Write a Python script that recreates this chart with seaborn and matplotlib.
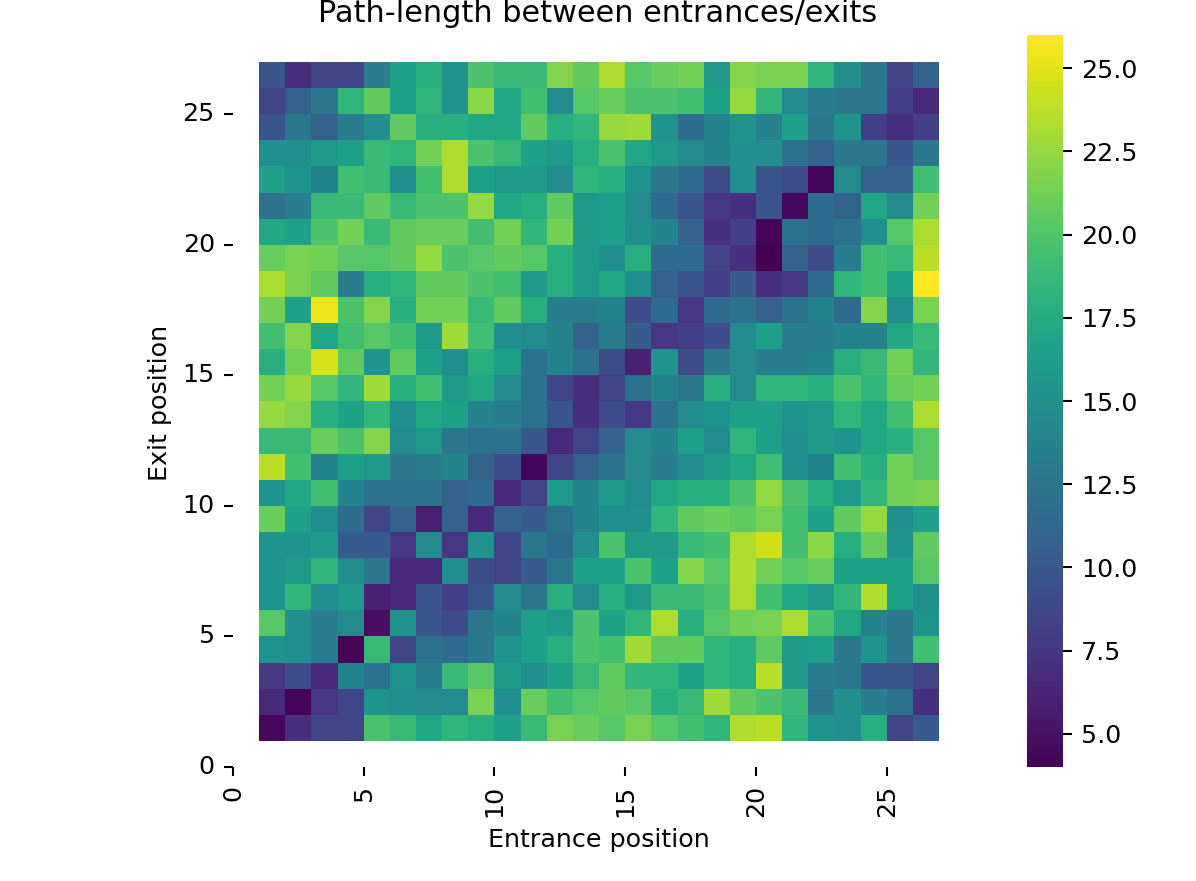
import numpy as np
import matplotlib
matplotlib.use("Agg")
import matplotlib.pyplot as plt
import seaborn as sns

title = "Path-length between entrances/exits"
x_label = "Entrance position"
y_label = "Exit position"
tick_values = [0, 5, 10, 15, 20, 25]

# Rows run from exit position 26 (top) to 1 (bottom); columns are entrance positions 1..26
exit_26 = [9.7,7,8.5,8.5,13.2,16.4,17.9,15.4,19.8,18.8,18.8,21.9,20.6,23.3,20.2,21,21.3,15.9,21.9,21.6,21.6,18.4,14.9,12.7,8.5,10.9]
exit_25 = [8.5,10.9,12.7,18.4,20.6,16.4,18.4,15.4,22.2,17.1,19.3,14.4,20.2,21,19.8,19.8,19.3,16.4,22.5,18.4,14.4,13.2,12.7,12.7,8,6.5]
exit_24 = [9.7,12.7,10.9,13.2,14.9,20.6,17.9,17.9,17.1,17.1,20.6,17.9,18.4,22.5,22.9,15.4,11.6,13.8,15.4,13.8,16.4,12.7,15.4,8,7,8]
exit_23 = [14.9,14.9,15.9,16.4,18.8,18.4,21.3,23.3,19.8,18.8,16.4,15.9,17.9,19.8,17.1,15.9,14.4,13.8,14.9,14.9,12.2,10.9,12.7,12.7,9.7,12.7]
exit_22 = [16.4,15.4,13.8,19.3,18.8,14.9,19.3,23.3,16.4,15.9,15.9,14.4,18.4,17.9,15.4,12.7,11.6,9,14.9,9.7,9,4.3,14.4,10.9,10.9,19.3]
exit_21 = [12.2,13.2,18.8,18.8,20.6,18.8,19.8,19.8,22.5,17.1,17.9,20.6,15.9,16.4,14.4,11.6,9.7,7.5,7,9.7,4.5,11.6,10.9,17.1,14.4,21.3]
exit_20 = [17.1,16.4,19.8,21.3,18.8,20.6,21,21,19.3,21.3,18.4,21.3,15.9,16.4,14.9,13.8,10.9,7,8,4.2,12.2,11.6,12.2,14.9,20.2,23.3]
exit_19 = [21,21.6,21.3,20.2,20.2,20.6,22.5,19.8,20.2,20.6,20.2,17.9,15.9,14.9,17.9,11.6,11.6,8.5,7,4,10.9,9,13.2,19.3,18.8,23.7]
exit_18 = [23.3,21.6,20.6,13.2,17.9,18.4,20.6,20.6,19.8,19.3,15.9,17.9,15.9,17.1,14.9,10.9,9.7,8,10.3,7,7.5,11.6,18.4,19.3,16.4,26]
exit_17 = [21.3,16.4,25.4,19.8,21.9,17.9,21.3,21.3,18.8,20.6,17.9,13.2,13.2,13.8,9,11.6,7.5,11.6,12.2,10.9,12.2,13.8,11.6,21.9,14.9,21.6]
exit_16 = [19.3,21.9,17.1,19.3,20.2,19.3,15.9,22.9,19.3,14.9,14.4,13.8,10.9,13.2,10.3,7.5,8,9,14.4,16.4,13.2,13.2,13.8,13.8,17.1,18.8]
exit_15 = [17.9,21.3,24.6,20.6,15.4,20.6,16.4,14.9,17.9,16.4,12.2,13.8,12.2,9,6,15.4,9,12.7,14.4,13.2,13.2,13.8,17.9,18.8,21.3,18.4]
exit_14 = [21.3,22.5,20.2,18.4,22.9,17.9,19.3,15.9,17.1,14.4,12.2,8.5,7,8.5,12.2,13.8,12.7,17.9,14.4,18.4,18.4,17.9,19.8,18.4,21,21.3]
exit_13 = [22.5,21.9,17.9,16.4,18.4,14.9,17.1,16.4,13.8,13.2,12.2,9.7,7,9,7.5,12.2,14.4,15.4,16.4,16.4,15.4,15.9,18.4,17.1,19.3,23.3]
exit_12 = [18.8,18.8,21,19.8,21.9,14.4,15.9,12.7,12.2,12.2,9.7,6.5,8.5,10.9,14.4,13.8,16.4,14.4,18.4,16.4,14.9,15.9,15.4,17.1,17.9,20.2]
exit_11 = [23.7,19.3,13.8,16.4,15.9,12.7,13.2,13.8,10.9,9,4.3,8.5,10.9,12.2,14.4,13.2,14.4,15.9,17.1,19.3,14.9,13.8,19.3,17.9,21.3,20.2]
exit_10 = [15.4,17.1,19.3,13.8,12.2,12.2,12.2,10.9,11.6,6.5,8.5,15.9,13.8,15.9,14.4,17.1,17.9,17.9,19.8,22.5,19.8,17.9,15.9,18.4,21.3,21.6]
exit_09 = [21,16.4,14.9,11.6,8.5,10.9,6,10.9,6.5,10.9,10.3,12.2,13.8,14.9,14.9,18.4,20.6,21,20.6,21.6,19.3,16.4,20.6,22.5,14.9,16.4]
exit_08 = [15.4,15.4,15.9,10.3,10.3,7.5,14.4,7.5,15.4,8.5,12.7,11.6,14.9,19.8,15.9,15.9,18.8,19.3,23.3,24.4,19.3,22.2,17.9,21,15.4,20.6]
exit_07 = [15.4,15.9,18.4,14.9,12.7,6.5,6.5,14.9,9,8.5,10.3,12.7,16.4,16.4,19.8,16.4,21.9,20.2,23.3,21.3,20.2,21,16.4,16.4,16.4,20.2]
exit_06 = [15.4,18.4,14.9,15.9,6,6.5,9.7,8,9.7,14.4,12.7,17.9,14.4,17.9,15.9,18.8,18.8,19.8,23.3,19.3,17.1,15.9,18.4,23.3,16.4,14.9]
exit_05 = [20.2,14.9,13.2,14.4,4.8,15.4,9.7,9,12.7,13.8,16.4,15.9,19.8,16.4,18.4,23.3,17.9,20.2,21.3,21.6,23.3,19.8,17.1,13.8,12.7,15.4]
exit_04 = [15.4,14.9,13.2,4.2,18.8,8.5,12.2,11.6,12.7,15.4,16.4,17.9,19.8,19.3,22.9,20.6,20.6,18.4,17.9,20.6,15.9,16.4,12.7,15.4,12.7,19.3]
exit_03 = [7.5,9,6.5,13.8,12.2,15.4,13.2,18.8,20.2,15.9,14.9,16.4,18.8,20.6,18.4,18.4,16.4,18.4,17.9,23.7,15.9,13.2,12.7,9.7,9.7,8.5]
exit_02 = [6.5,4.2,7.5,8.5,15.4,14.9,14.4,14.4,21.6,14.9,21,19.3,20.2,20.6,20.2,17.9,18.8,22.9,20.6,19.8,18.8,12.7,14.9,13.2,12.2,7]
exit_01 = [4.5,7,8.5,8.5,19.8,18.8,17.1,18.4,17.9,16.4,18.8,21.6,21,20.2,21.6,20.2,19.3,18.4,23.3,23.7,18.4,15.4,14.9,17.9,8.5,10.3]

rows_top_down = [exit_26, exit_25, exit_24, exit_23, exit_22, exit_21, exit_20, exit_19, exit_18,
                 exit_17, exit_16, exit_15, exit_14, exit_13, exit_12, exit_11, exit_10, exit_09,
                 exit_08, exit_07, exit_06, exit_05, exit_04, exit_03, exit_02, exit_01]

# Position 0 is not a real entrance/exit: it stays empty, which leaves the gap on the axes
grid = np.full((27, 27), np.nan)
grid[1:, 1:] = np.array(rows_top_down, dtype=float)[::-1]

plt.rcParams["font.size"] = 9.75

W, H = 1196, 881
DPI = 187
fig = plt.figure(figsize=(W / DPI, H / DPI), dpi=DPI)
ax = fig.add_axes([233 / W, (H - 767) / H, 706 / W, 705 / H])
cax = fig.add_axes([1027 / W, (H - 767) / H, 36 / W, 732 / H])

sns.heatmap(grid, ax=ax, cbar_ax=cax, cmap="viridis", vmin=4, vmax=26)

ax.set_xlim(0, 27)
ax.set_ylim(0, 27)
ax.set_xticks(tick_values)
ax.set_yticks(tick_values)
ax.set_xticklabels(tick_values, rotation=90)
ax.set_yticklabels(tick_values, rotation=0)
ax.set_xlabel(x_label, x=(598.5 - 233) / 706)
ax.set_ylabel(y_label, y=(767 - 403) / 705)
ax.set_title(title, pad=15.5, x=(598 - 233) / 706)

fig.savefig("out.png", dpi=DPI)
